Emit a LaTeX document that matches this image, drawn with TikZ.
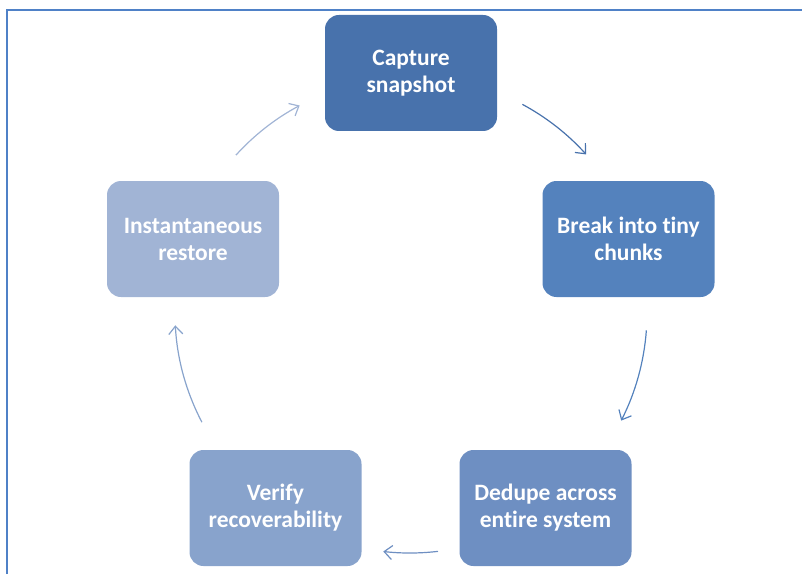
\documentclass[tikz,border=0pt]{standalone}
\usepackage{fontspec}
\setmainfont{Carlito}[Ligatures=NoCommon]
\usetikzlibrary{arrows.meta}
\definecolor{cA}{HTML}{4872AC}
\definecolor{cB}{HTML}{5482BD}
\definecolor{cC}{HTML}{6E8FC2}
\definecolor{cD}{HTML}{88A3CC}
\definecolor{cE}{HTML}{A1B4D5}
\definecolor{frame}{HTML}{4F81C7}
\begin{document}
\begin{tikzpicture}[x=1pt,y=1pt,
  stepbox/.style={rounded corners=14pt, minimum width=172pt, minimum height=116pt,
    inner sep=0pt, align=center, text=white,
    font=\fontsize{23.5}{27}\selectfont\bfseries},
  arr/.style={line width=1.2pt, -{Straight Barb[length=8pt,width=14pt]}}
]
\useasboundingbox (0,0) rectangle (802,574);
\draw[frame, line width=2pt] (7,0) -- (7,564) -- (802,564);
\node[stepbox, fill=cA] (cap) at (411,501) {Capture\\snapshot};
\node[stepbox, fill=cB] (brk) at (628.5,335) {Break into tiny\\chunks};
\node[stepbox, fill=cC] (ded) at (545.5,66) {Dedupe across\\entire system};
\node[stepbox, fill=cD] (ver) at (275.5,66) {Verify\\recoverability};
\node[stepbox, fill=cE] (ins) at (193,335) {Instantaneous\\restore};
\coordinate (c) at (410,261);
\draw[arr, cA] ([shift={(61.7:237)}]c) arc[start angle=61.7, end angle=42, radius=237];
\draw[arr, cB] ([shift={(-4.2:237)}]c) arc[start angle=-4.2, end angle=-27, radius=237];
\draw[arr, cC] ([shift={(-83.3:240)}]c) arc[start angle=-83.3, end angle=-96.4, radius=240];
\draw[arr, cD] ([shift={(207.7:235)}]c) arc[start angle=207.7, end angle=183, radius=235];
\draw[arr, cE] ([shift={(137.8:235)}]c) arc[start angle=137.8, end angle=118, radius=235];
\end{tikzpicture}
\end{document}
